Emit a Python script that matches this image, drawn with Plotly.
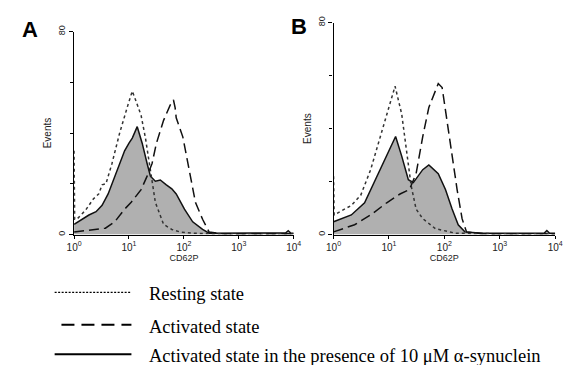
import plotly.graph_objects as go

# ---- data (log10 of CD62P fluorescence, event counts) ----
A_rest_L = [0, 0.01, 0.05, 0.21, 0.35, 0.45, 0.51, 0.58, 0.69, 0.83, 0.98, 1.06, 1.12, 1.22, 1.30, 1.39, 1.48, 1.63, 1.78, 1.93, 2.2, 2.6, 3.0, 3.5, 4.0]
A_rest_C = [33, 6, 6, 9.6, 14, 16, 19.6, 20, 28, 40, 51, 56.5, 53, 47, 38, 25, 12.7, 4, 2, 1, 0.5, 0.3, 0.3, 0.3, 0.3]

A_act_L = [0, 0.4, 0.57, 0.74, 0.92, 1.04, 1.22, 1.33, 1.42, 1.50, 1.63, 1.75, 1.81, 1.84, 1.86, 1.98, 2.1, 2.21, 2.34, 2.46, 2.7, 3.2, 4.0]
A_act_C = [1, 2, 2.5, 5, 10, 12.7, 17.7, 23, 28, 36, 45, 51, 53, 50, 46, 38.5, 25, 12.7, 6, 1, 0.3, 0.3, 0.3]

A_syn_L = [0, 0.1, 0.27, 0.4, 0.51, 0.62, 0.74, 0.84, 0.92, 1.0, 1.06, 1.15, 1.24, 1.33, 1.39, 1.48, 1.57, 1.68, 1.78, 1.86, 1.94, 2.01, 2.16, 2.34, 2.46, 2.7, 3.0, 3.5, 3.85, 3.9, 3.95, 4.0]
A_syn_C = [4, 5.5, 7.7, 9, 11.5, 16, 23, 28, 33, 36, 38, 42.5, 36, 28, 23, 21, 21.5, 19.6, 18, 16, 13, 10, 5, 2, 0.5, 0.5, 0.6, 0.5, 0.6, 1.5, 0.5, 0.5]

B_rest_L = [0, 0.01, 0.32, 0.49, 0.67, 0.79, 0.91, 1.02, 1.11, 1.23, 1.32, 1.4, 1.49, 1.61, 1.84, 2.2, 3.0, 4.0]
B_rest_C = [22, 7.4, 11, 14.8, 24.5, 33, 42, 50, 56, 45.5, 31, 18.5, 9.6, 6, 2.2, 0.5, 0.3, 0.3]

B_act_L = [0, 0.38, 0.67, 0.96, 1.2, 1.37, 1.49, 1.61, 1.72, 1.84, 1.89, 1.96, 2.02, 2.14, 2.23, 2.32, 2.4, 2.7, 4.0]
B_act_C = [1, 3.7, 7.4, 12, 15.3, 17, 23, 37, 48, 54, 57, 55.5, 46.7, 31, 17, 6, 1, 0.3, 0.3]

B_syn_L = [0, 0.32, 0.56, 0.73, 0.91, 1.02, 1.12, 1.23, 1.35, 1.44, 1.52, 1.61, 1.72, 1.89, 2.02, 2.14, 2.25, 2.37, 2.7, 3.2, 3.8, 3.85, 3.9, 4.0]
B_syn_C = [4.8, 7.4, 12, 19.6, 28, 33, 37, 29.6, 20.7, 19.6, 22, 24.5, 26.3, 23, 17, 9.6, 3.7, 1, 0.5, 0.5, 0.5, 1.5, 0.5, 0.5]

x_tickvals = [1, 10, 100, 1000, 10000]
x_ticktext = ["10<sup>0</sup>", "10<sup>1</sup>", "10<sup>2</sup>", "10<sup>3</sup>", "10<sup>4</sup>"]
y_tickvals = [0, 80]
y_ticktext = ["0", "80"]
y_minor_ticks = [20, 40, 60]
legend_labels = ["Resting state", "Activated state",
                 "Activated state in the presence of 10 \u03bcM \u03b1-synuclein"]

def tx(L):
    return [10 ** v for v in L]

fig = go.Figure()

panels = [
    ("x", "y", A_rest_L, A_rest_C, A_act_L, A_act_C, A_syn_L, A_syn_C),
    ("x2", "y2", B_rest_L, B_rest_C, B_act_L, B_act_C, B_syn_L, B_syn_C),
]
for xa, ya, rL, rC, aL, aC, sL, sC in panels:
    fig.add_trace(go.Scatter(x=tx(sL), y=sC, xaxis=xa, yaxis=ya, mode="lines",
                             fill="tozeroy", fillcolor="#b0b0b0",
                             line=dict(color="#111111", width=1.5), showlegend=False))
    fig.add_trace(go.Scatter(x=tx(rL), y=rC, xaxis=xa, yaxis=ya, mode="lines",
                             line=dict(color="#333333", width=1.5, dash="dot"), showlegend=False))
    fig.add_trace(go.Scatter(x=tx(aL), y=aC, xaxis=xa, yaxis=ya, mode="lines",
                             line=dict(color="#111111", width=1.5, dash="10px,5px"), showlegend=False))

xcommon = dict(type="log", range=[0, 4], tickvals=x_tickvals, ticktext=x_ticktext,
               showline=True, linecolor="black", linewidth=1.3, ticks="outside",
               ticklen=3, tickcolor="black", showgrid=False, zeroline=False,
               tickfont=dict(family="Arial", size=10, color="#222"),
               title=dict(text="CD62P", font=dict(family="Arial", size=9, color="#222"), standoff=0))
ycommon = dict(range=[0, 80], tickvals=y_tickvals, ticktext=y_ticktext, tickangle=-90,
               showline=True, linecolor="black", linewidth=1.3, ticks="outside",
               ticklen=4, tickcolor="black", showgrid=False, zeroline=False,
               minor=dict(tickvals=y_minor_ticks, ticks="outside", ticklen=3, tickcolor="black", showgrid=False),
               tickfont=dict(family="Arial", size=9, color="#222"),
               title=dict(text="Events", font=dict(family="Arial", size=10, color="#222"), standoff=3))

fig.update_layout(
    width=568, height=365, margin=dict(l=0, r=0, t=0, b=0),
    paper_bgcolor="white", plot_bgcolor="white", showlegend=False,
    xaxis=dict(domain=[68 / 568, 294 / 568], anchor="y", **xcommon),
    yaxis=dict(domain=[(365 - 233) / 365, (365 - 26) / 365], anchor="x", **ycommon),
    xaxis2=dict(domain=[335 / 568, 563 / 568], anchor="y2", **xcommon),
    yaxis2=dict(domain=[(365 - 233) / 365, (365 - 17) / 365], anchor="x2", **ycommon),
)

# panel letters
fig.add_annotation(text="<b>A</b>", xref="paper", yref="paper", x=12 / 568, y=(365 - 24) / 365,
                   xanchor="left", yanchor="middle", showarrow=False,
                   font=dict(family="Arial", size=22, color="black"))
fig.add_annotation(text="<b>B</b>", xref="paper", yref="paper", x=289 / 568, y=(365 - 21) / 365,
                   xanchor="left", yanchor="middle", showarrow=False,
                   font=dict(family="Arial", size=22, color="black"))

# legend
leg_y = [292, 325, 355]
leg_x0 = [48, 55, 48]
leg_dash = ["2px,1.5px", "13px,7px", "solid"]
leg_w = [1.3, 2.2, 2.0]
for lbl, py, x0, d, w in zip(legend_labels, leg_y, leg_x0, leg_dash, leg_w):
    yy = (365 - py) / 365
    fig.add_shape(type="line", xref="paper", yref="paper", x0=x0 / 568, x1=127 / 568,
                  y0=yy, y1=yy, line=dict(color="black", width=w, dash=d))
    fig.add_annotation(text=lbl, xref="paper", yref="paper", x=143 / 568, y=yy - 2 / 365,
                       xanchor="left", yanchor="middle", showarrow=False,
                       font=dict(family="Liberation Serif", size=18.5, color="black"))

fig.write_html("out.html", config={"displayModeBar": False},
               post_script="document.body.style.margin='0';document.body.style.overflow='hidden';")
